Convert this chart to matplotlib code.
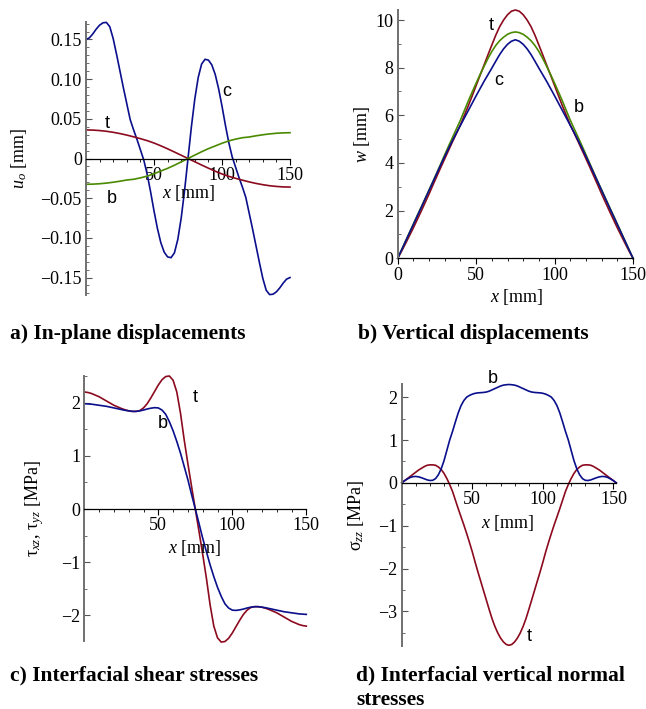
import numpy as np
import matplotlib
matplotlib.use("Agg")
import matplotlib.pyplot as plt
from matplotlib.ticker import MultipleLocator, FixedLocator

plt.rcParams["font.family"] = ["Liberation Serif", "DejaVu Serif"]
plt.rcParams["mathtext.fontset"] = "custom"
plt.rcParams["mathtext.rm"] = "Liberation Serif"
plt.rcParams["mathtext.it"] = "Liberation Serif:italic"

RED = "#8c0a1e"
BLUE = "#0a0f8c"
GREEN = "#4a8a00"

# ---- a) in-plane displacements u_o [mm]
x_a_fine = np.arange(0, 150.1, 2.5)
u_c = [0.150, 0.152, 0.157, 0.163, 0.168, 0.171, 0.1715, 0.166, 0.151, 0.131,
       0.110, 0.089, 0.069, 0.049, 0.036, 0.024, 0.011, -0.002, -0.020, -0.042,
       -0.066, -0.088, -0.106, -0.118, -0.124, -0.125, -0.119, -0.102, -0.075, -0.040,
       0.0,
       0.040, 0.075, 0.102, 0.119, 0.125, 0.124, 0.118, 0.106, 0.088, 0.066,
       0.042, 0.020, 0.002, -0.011, -0.024, -0.036, -0.049, -0.069, -0.089, -0.110,
       -0.131, -0.151, -0.166, -0.1715, -0.171, -0.168, -0.163, -0.157, -0.152, -0.150]
x_a = np.arange(0, 151, 5)
u_t = [0.036, 0.0358, 0.0352, 0.0343, 0.0330, 0.0314, 0.0295, 0.0273, 0.0250, 0.0225,
       0.0195, 0.0160, 0.0122, 0.0082, 0.0041, 0.0,
       -0.0041, -0.0082, -0.0122, -0.0160, -0.0195, -0.0225, -0.0250, -0.0273, -0.0295,
       -0.0314, -0.0330, -0.0343, -0.0352, -0.0358, -0.036]
u_b = [-0.0325, -0.0323, -0.0318, -0.0310, -0.0299, -0.0286, -0.0271, -0.0262, -0.0244, -0.0222,
       -0.0192, -0.0158, -0.0124, -0.0085, -0.0043, 0.0,
       0.0043, 0.0085, 0.0124, 0.0158, 0.0192, 0.0222, 0.0244, 0.0262, 0.0271,
       0.0286, 0.0299, 0.0310, 0.0318, 0.0323, 0.0325]

# ---- b) vertical displacements w [mm]
x_b = np.arange(0, 150.1, 2.5)
w_t = [0, 0.30, 0.62, 0.95, 1.28, 1.63, 1.98, 2.34, 2.70, 3.08, 3.45, 3.82, 4.18, 4.54, 4.90,
       5.25, 5.60, 6.00, 6.40, 6.82, 7.25, 7.68, 8.10, 8.53, 8.95, 9.36, 9.72, 10.00, 10.22, 10.37,
       10.42,
       10.37, 10.22, 10.00, 9.72, 9.36, 8.95, 8.53, 8.10, 7.68, 7.25, 6.82, 6.40, 6.00, 5.60,
       5.25, 4.90, 4.54, 4.18, 3.82, 3.45, 3.08, 2.70, 2.34, 1.98, 1.63, 1.28, 0.95, 0.62, 0.30, 0]
w_b = [0, 0.36, 0.72, 1.08, 1.44, 1.80, 2.15, 2.51, 2.87, 3.23, 3.60, 3.97, 4.35, 4.72, 5.08,
       5.44, 5.80, 6.20, 6.60, 6.98, 7.35, 7.71, 8.05, 8.38, 8.68, 8.93, 9.13, 9.28, 9.40, 9.47,
       9.50,
       9.47, 9.40, 9.28, 9.13, 8.93, 8.68, 8.38, 8.05, 7.71, 7.35, 6.98, 6.60, 6.20, 5.80,
       5.44, 5.08, 4.72, 4.35, 3.97, 3.60, 3.23, 2.87, 2.51, 2.15, 1.80, 1.44, 1.08, 0.72, 0.36, 0]
w_c = [0, 0.355, 0.71, 1.065, 1.42, 1.775, 2.13, 2.49, 2.85, 3.21, 3.57, 3.93, 4.28, 4.62, 4.95,
       5.27, 5.58, 5.89, 6.20, 6.51, 6.82, 7.12, 7.42, 7.70, 7.98, 8.27, 8.55, 8.79, 8.98, 9.11,
       9.17,
       9.11, 8.98, 8.79, 8.55, 8.27, 7.98, 7.70, 7.42, 7.12, 6.82, 6.51, 6.20, 5.89, 5.58,
       5.27, 4.95, 4.62, 4.28, 3.93, 3.57, 3.21, 2.85, 2.49, 2.13, 1.775, 1.42, 1.065, 0.71, 0.355, 0]

# ---- c) interfacial shear stresses [MPa]
x_c = np.arange(0, 150.1, 2.5)
tau_t = [2.20, 2.19, 2.17, 2.14, 2.11, 2.07, 2.03, 1.99, 1.95, 1.92,
         1.89, 1.865, 1.845, 1.835, 1.835, 1.85, 1.90, 1.98, 2.09, 2.21,
         2.33, 2.43, 2.49, 2.50, 2.42, 2.20, 1.80, 1.30, 0.85, 0.42,
         0.0,
         -0.42, -0.85, -1.30, -1.80, -2.20, -2.42, -2.50, -2.49, -2.43, -2.33,
         -2.21, -2.09, -1.98, -1.90, -1.85, -1.835, -1.835, -1.845, -1.865, -1.89,
         -1.92, -1.95, -1.99, -2.03, -2.07, -2.11, -2.14, -2.17, -2.19, -2.20]
tau_b = [1.98, 1.975, 1.97, 1.96, 1.95, 1.94, 1.93, 1.915, 1.90, 1.885,
         1.87, 1.855, 1.845, 1.835, 1.835, 1.845, 1.86, 1.88, 1.895, 1.905,
         1.90, 1.86, 1.78, 1.64, 1.47, 1.27, 1.05, 0.80, 0.55, 0.27,
         0.0,
         -0.27, -0.55, -0.80, -1.05, -1.27, -1.47, -1.64, -1.78, -1.86, -1.90,
         -1.905, -1.895, -1.88, -1.86, -1.845, -1.835, -1.835, -1.845, -1.855, -1.87,
         -1.885, -1.90, -1.915, -1.93, -1.94, -1.95, -1.96, -1.97, -1.975, -1.98]

# ---- d) interfacial vertical normal stresses [MPa]
x_d = np.arange(0, 152.1, 2)
sig_t = [0, 0.05, 0.10, 0.15, 0.20, 0.25, 0.30, 0.34, 0.38, 0.41,
         0.42, 0.42, 0.41, 0.37, 0.31, 0.22, 0.10, -0.04, -0.20, -0.40,
         -0.60, -0.79, -0.98, -1.18, -1.39, -1.61, -1.85, -2.08, -2.30, -2.52,
         -2.74, -2.96, -3.17, -3.35, -3.50, -3.62, -3.71, -3.77, -3.79,
         -3.77, -3.71, -3.62, -3.50, -3.35, -3.17, -2.96, -2.74, -2.52, -2.30,
         -2.08, -1.85, -1.61, -1.39, -1.18, -0.98, -0.79, -0.60, -0.40, -0.20,
         -0.04, 0.10, 0.22, 0.31, 0.37, 0.41, 0.42, 0.42, 0.41, 0.38,
         0.34, 0.30, 0.25, 0.20, 0.15, 0.10, 0.05, 0]
sig_b = [0, 0.05, 0.09, 0.125, 0.145, 0.15, 0.14, 0.12, 0.095, 0.07,
         0.055, 0.06, 0.10, 0.19, 0.33, 0.52, 0.76, 1.00, 1.20, 1.42,
         1.63, 1.80, 1.92, 2.00, 2.04, 2.07, 2.09, 2.10, 2.105, 2.11,
         2.12, 2.14, 2.17, 2.20, 2.23, 2.26, 2.28, 2.29, 2.295,
         2.29, 2.28, 2.26, 2.23, 2.20, 2.17, 2.14, 2.12, 2.11, 2.105,
         2.10, 2.09, 2.07, 2.04, 2.00, 1.92, 1.80, 1.63, 1.42, 1.20,
         1.00, 0.76, 0.52, 0.33, 0.19, 0.10, 0.06, 0.055, 0.07, 0.095,
         0.12, 0.14, 0.15, 0.145, 0.125, 0.09, 0.05, 0]

W, H = 646, 709
fig = plt.figure(figsize=(W / 100, H / 100), dpi=100)


def make_axes(left, right, top, bottom):
    # pixel box -> figure fraction
    return fig.add_axes([left / W, 1 - bottom / H, (right - left) / W, (bottom - top) / H])


def style(ax, xmaj, xmin_step, ymaj, ylabels, ymin_step):
    for s in ("top", "right"):
        ax.spines[s].set_visible(False)
    ax.spines["bottom"].set_position(("data", 0))
    ax.spines["bottom"].set_color("black")
    ax.spines["bottom"].set_linewidth(0.9)
    ax.spines["left"].set_color("#707070")
    ax.spines["left"].set_linewidth(1.4)
    ax.xaxis.set_major_locator(FixedLocator(xmaj))
    ax.xaxis.set_minor_locator(MultipleLocator(xmin_step))
    ax.set_xticklabels([str(v) for v in xmaj])
    ax.yaxis.set_major_locator(FixedLocator(ymaj))
    ax.yaxis.set_minor_locator(MultipleLocator(ymin_step))
    ax.set_yticklabels(ylabels)
    ax.tick_params(axis="x", which="major", direction="out", length=4, width=0.8, pad=2, labelsize=13)
    ax.tick_params(axis="x", which="minor", direction="out", length=2.5, width=0.6)
    ax.tick_params(axis="y", which="major", direction="in", length=4, width=0.8, pad=3, labelsize=13,
                   color="#555555")
    ax.tick_params(axis="y", which="minor", direction="in", length=2.5, width=0.6, color="#555555")
    ax.patch.set_alpha(0)


def lab(ax, x, y, s):
    ax.text(x, y, s, fontsize=13, family=["Liberation Sans", "DejaVu Sans"], ha="center", va="center")


def xlab(ax, x, y):
    ax.text(x, y, "$x$ [mm]", fontsize=13, ha="center", va="center", clip_on=False)


# a)
ax = make_axes(86, 290, 22, 295)
ax.plot(x_a_fine, u_c, color=BLUE, lw=1.2, clip_on=False)
ax.plot(x_a, u_t, color=RED, lw=1.2, clip_on=False)
ax.plot(x_a, u_b, color=GREEN, lw=1.2, clip_on=False)
ax.set_xlim(0, 150)
ax.set_ylim(-0.172, 0.172)
style(ax, [50, 100, 150], 10, [-0.15, -0.10, -0.05, 0, 0.05, 0.10, 0.15],
      ["\u22120.15", "\u22120.10", "\u22120.05", "0", "0.05", "0.10", "0.15"], 0.01)
ax.set_ylabel("$u_o$ [mm]", fontsize=13)
ax.yaxis.set_label_coords(-0.28, 0.5)
lab(ax, 15.7, 0.044, "t")
lab(ax, 19, -0.050, "b")
lab(ax, 103.5, 0.084, "c")
xlab(ax, 75.2, -0.044)

# b)
ax = make_axes(397.7, 633, 10, 258.3)
ax.plot(x_b, w_t, color=RED, lw=1.2, clip_on=False)
ax.plot(x_b, w_b, color=GREEN, lw=1.2, clip_on=False)
ax.plot(x_b, w_c, color=BLUE, lw=1.2, clip_on=False)
ax.set_xlim(0, 150)
ax.set_ylim(0, 10.42)
style(ax, [0, 50, 100, 150], 10, [0, 2, 4, 6, 8, 10], ["0", "2", "4", "6", "8", "10"], 1)
ax.set_ylabel("$w$ [mm]", fontsize=13)
ax.yaxis.set_label_coords(-0.11, 0.5)
lab(ax, 59.9, 9.79, "t")
lab(ax, 64.1, 7.48, "c")
lab(ax, 115.7, 6.34, "b")
xlab(ax, 76, -1.62)

# c)
ax = make_axes(84.3, 306.3, 376, 641)
ax.plot(x_c, tau_t, color=RED, lw=1.2, clip_on=False)
ax.plot(x_c, tau_b, color=BLUE, lw=1.2, clip_on=False)
ax.set_xlim(0, 150)
ax.set_ylim(-2.48, 2.5)
style(ax, [50, 100, 150], 10, [-2, -1, 0, 1, 2], ["\u22122", "\u22121", "0", "1", "2"], 0.5)
ax.set_ylabel("\u03c4$_{xz}$, \u03c4$_{yz}$ [MPa]", fontsize=13)
ax.yaxis.set_label_coords(-0.173, 0.5)
lab(ax, 75, 2.1, "t")
lab(ax, 53, 1.6, "b")
xlab(ax, 74.8, -0.73)

# d)
ax = make_axes(401.7, 616.3, 384.3, 645.7)
ax.plot(x_d, sig_t, color=RED, lw=1.2, clip_on=False)
ax.plot(x_d, sig_b, color=BLUE, lw=1.2, clip_on=False)
ax.set_xlim(0, 152)
ax.set_ylim(-3.8, 2.3)
style(ax, [50, 100, 150], 10, [-3, -2, -1, 0, 1, 2], ["\u22123", "\u22122", "\u22121", "0", "1", "2"], 0.5)
ax.set_ylabel("\u03c3$_{zz}$ [MPa]", fontsize=13)
ax.yaxis.set_label_coords(-0.168, 0.5)
lab(ax, 64.8, 2.43, "b")
lab(ax, 90, -3.59, "t")
xlab(ax, 74.8, -0.93)

# captions
cap = dict(fontsize=15.5, fontweight="bold", va="center", ha="left")
fig.text(10 / W, 1 - 334 / H, "a) In-plane displacements", **cap)
fig.text(358 / W, 1 - 334 / H, "b) Vertical displacements", **cap)
fig.text(10 / W, 1 - 675 / H, "c) Interfacial shear stresses", **cap)
fig.text(356 / W, 1 - 675 / H, "d) Interfacial vertical normal", **cap)
fig.text(356 / W, 1 - 700 / H, "stresses", **cap)

fig.savefig("out.png", dpi=100)
